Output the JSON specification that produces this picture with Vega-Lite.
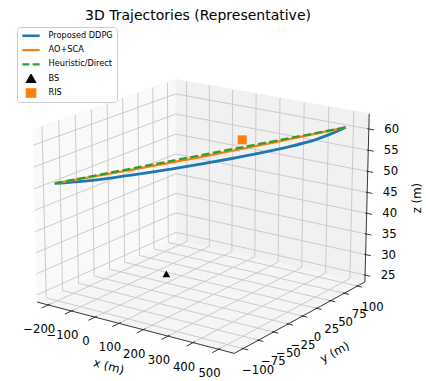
{
"$schema":"https://vega.github.io/schema/vega-lite/v6.json",
"width":426,"height":353,
"autosize":{"type":"none"},
"padding":{"left":0,"top":28,"right":0,"bottom":0},
"background":"white",
"config":{"view":{"stroke":null},"font":"DejaVu Sans"},
"title":{"text":"3D Trajectories (Representative)","font":"DejaVu Sans","fontSize":14,"fontWeight":"normal","color":"#000000","anchor":"middle","frame":"group","dx":-15,"offset":4},
"data":{"values":[
{"k":"pane","p":"floor","o":0,"x":-249,"y":-114,"z":23.3},
{"k":"pane","p":"floor","o":1,"x":561,"y":-114,"z":23.3},
{"k":"pane","p":"floor","o":2,"x":561,"y":114,"z":23.3},
{"k":"pane","p":"floor","o":3,"x":-249,"y":114,"z":23.3},
{"k":"pane","p":"left","o":0,"x":-249,"y":-114,"z":23.3},
{"k":"pane","p":"left","o":1,"x":-249,"y":114,"z":23.3},
{"k":"pane","p":"left","o":2,"x":-249,"y":114,"z":63.55},
{"k":"pane","p":"left","o":3,"x":-249,"y":-114,"z":63.55},
{"k":"pane","p":"back","o":0,"x":-249,"y":114,"z":23.3},
{"k":"pane","p":"back","o":1,"x":561,"y":114,"z":23.3},
{"k":"pane","p":"back","o":2,"x":561,"y":114,"z":63.55},
{"k":"pane","p":"back","o":3,"x":-249,"y":114,"z":63.55},

{"k":"grid","x":-200,"y":-114,"z":23.3,"x2":-200,"y2":114,"z2":23.3},
{"k":"grid","x":-100,"y":-114,"z":23.3,"x2":-100,"y2":114,"z2":23.3},
{"k":"grid","x":0,"y":-114,"z":23.3,"x2":0,"y2":114,"z2":23.3},
{"k":"grid","x":100,"y":-114,"z":23.3,"x2":100,"y2":114,"z2":23.3},
{"k":"grid","x":200,"y":-114,"z":23.3,"x2":200,"y2":114,"z2":23.3},
{"k":"grid","x":300,"y":-114,"z":23.3,"x2":300,"y2":114,"z2":23.3},
{"k":"grid","x":400,"y":-114,"z":23.3,"x2":400,"y2":114,"z2":23.3},
{"k":"grid","x":500,"y":-114,"z":23.3,"x2":500,"y2":114,"z2":23.3},
{"k":"grid","x":-249,"y":-100,"z":23.3,"x2":561,"y2":-100,"z2":23.3},
{"k":"grid","x":-249,"y":-75,"z":23.3,"x2":561,"y2":-75,"z2":23.3},
{"k":"grid","x":-249,"y":-50,"z":23.3,"x2":561,"y2":-50,"z2":23.3},
{"k":"grid","x":-249,"y":-25,"z":23.3,"x2":561,"y2":-25,"z2":23.3},
{"k":"grid","x":-249,"y":0,"z":23.3,"x2":561,"y2":0,"z2":23.3},
{"k":"grid","x":-249,"y":25,"z":23.3,"x2":561,"y2":25,"z2":23.3},
{"k":"grid","x":-249,"y":50,"z":23.3,"x2":561,"y2":50,"z2":23.3},
{"k":"grid","x":-249,"y":75,"z":23.3,"x2":561,"y2":75,"z2":23.3},
{"k":"grid","x":-249,"y":100,"z":23.3,"x2":561,"y2":100,"z2":23.3},
{"k":"grid","x":-249,"y":-100,"z":23.3,"x2":-249,"y2":-100,"z2":63.55},
{"k":"grid","x":-249,"y":-75,"z":23.3,"x2":-249,"y2":-75,"z2":63.55},
{"k":"grid","x":-249,"y":-50,"z":23.3,"x2":-249,"y2":-50,"z2":63.55},
{"k":"grid","x":-249,"y":-25,"z":23.3,"x2":-249,"y2":-25,"z2":63.55},
{"k":"grid","x":-249,"y":0,"z":23.3,"x2":-249,"y2":0,"z2":63.55},
{"k":"grid","x":-249,"y":25,"z":23.3,"x2":-249,"y2":25,"z2":63.55},
{"k":"grid","x":-249,"y":50,"z":23.3,"x2":-249,"y2":50,"z2":63.55},
{"k":"grid","x":-249,"y":75,"z":23.3,"x2":-249,"y2":75,"z2":63.55},
{"k":"grid","x":-249,"y":100,"z":23.3,"x2":-249,"y2":100,"z2":63.55},
{"k":"grid","x":-249,"y":-114,"z":25,"x2":-249,"y2":114,"z2":25},
{"k":"grid","x":-249,"y":-114,"z":30,"x2":-249,"y2":114,"z2":30},
{"k":"grid","x":-249,"y":-114,"z":35,"x2":-249,"y2":114,"z2":35},
{"k":"grid","x":-249,"y":-114,"z":40,"x2":-249,"y2":114,"z2":40},
{"k":"grid","x":-249,"y":-114,"z":45,"x2":-249,"y2":114,"z2":45},
{"k":"grid","x":-249,"y":-114,"z":50,"x2":-249,"y2":114,"z2":50},
{"k":"grid","x":-249,"y":-114,"z":55,"x2":-249,"y2":114,"z2":55},
{"k":"grid","x":-249,"y":-114,"z":60,"x2":-249,"y2":114,"z2":60},
{"k":"grid","x":-200,"y":114,"z":23.3,"x2":-200,"y2":114,"z2":63.55},
{"k":"grid","x":-100,"y":114,"z":23.3,"x2":-100,"y2":114,"z2":63.55},
{"k":"grid","x":0,"y":114,"z":23.3,"x2":0,"y2":114,"z2":63.55},
{"k":"grid","x":100,"y":114,"z":23.3,"x2":100,"y2":114,"z2":63.55},
{"k":"grid","x":200,"y":114,"z":23.3,"x2":200,"y2":114,"z2":63.55},
{"k":"grid","x":300,"y":114,"z":23.3,"x2":300,"y2":114,"z2":63.55},
{"k":"grid","x":400,"y":114,"z":23.3,"x2":400,"y2":114,"z2":63.55},
{"k":"grid","x":500,"y":114,"z":23.3,"x2":500,"y2":114,"z2":63.55},
{"k":"grid","x":-249,"y":114,"z":25,"x2":561,"y2":114,"z2":25},
{"k":"grid","x":-249,"y":114,"z":30,"x2":561,"y2":114,"z2":30},
{"k":"grid","x":-249,"y":114,"z":35,"x2":561,"y2":114,"z2":35},
{"k":"grid","x":-249,"y":114,"z":40,"x2":561,"y2":114,"z2":40},
{"k":"grid","x":-249,"y":114,"z":45,"x2":561,"y2":114,"z2":45},
{"k":"grid","x":-249,"y":114,"z":50,"x2":561,"y2":114,"z2":50},
{"k":"grid","x":-249,"y":114,"z":55,"x2":561,"y2":114,"z2":55},
{"k":"grid","x":-249,"y":114,"z":60,"x2":561,"y2":114,"z2":60},

{"k":"axis","x":-249,"y":-114,"z":23.3,"x2":561,"y2":-114,"z2":23.3},
{"k":"axis","x":561,"y":-114,"z":23.3,"x2":561,"y2":114,"z2":23.3},
{"k":"axis","x":561,"y":114,"z":23.3,"x2":561,"y2":114,"z2":63.55},

{"k":"tick","x":-200,"y":-111,"z":23.3,"x2":-200,"y2":-124,"z2":23.3},
{"k":"tick","x":-100,"y":-111,"z":23.3,"x2":-100,"y2":-124,"z2":23.3},
{"k":"tick","x":0,"y":-111,"z":23.3,"x2":0,"y2":-124,"z2":23.3},
{"k":"tick","x":100,"y":-111,"z":23.3,"x2":100,"y2":-124,"z2":23.3},
{"k":"tick","x":200,"y":-111,"z":23.3,"x2":200,"y2":-124,"z2":23.3},
{"k":"tick","x":300,"y":-111,"z":23.3,"x2":300,"y2":-124,"z2":23.3},
{"k":"tick","x":400,"y":-111,"z":23.3,"x2":400,"y2":-124,"z2":23.3},
{"k":"tick","x":500,"y":-111,"z":23.3,"x2":500,"y2":-124,"z2":23.3},
{"k":"tick","x":555,"y":-100,"z":23.3,"x2":580,"y2":-100,"z2":23.3},
{"k":"tick","x":555,"y":-75,"z":23.3,"x2":580,"y2":-75,"z2":23.3},
{"k":"tick","x":555,"y":-50,"z":23.3,"x2":580,"y2":-50,"z2":23.3},
{"k":"tick","x":555,"y":-25,"z":23.3,"x2":580,"y2":-25,"z2":23.3},
{"k":"tick","x":555,"y":0,"z":23.3,"x2":580,"y2":0,"z2":23.3},
{"k":"tick","x":555,"y":25,"z":23.3,"x2":580,"y2":25,"z2":23.3},
{"k":"tick","x":555,"y":50,"z":23.3,"x2":580,"y2":50,"z2":23.3},
{"k":"tick","x":555,"y":75,"z":23.3,"x2":580,"y2":75,"z2":23.3},
{"k":"tick","x":555,"y":100,"z":23.3,"x2":580,"y2":100,"z2":23.3},
{"k":"tick","x":555,"y":114,"z":25,"x2":582,"y2":114,"z2":25},
{"k":"tick","x":555,"y":114,"z":30,"x2":582,"y2":114,"z2":30},
{"k":"tick","x":555,"y":114,"z":35,"x2":582,"y2":114,"z2":35},
{"k":"tick","x":555,"y":114,"z":40,"x2":582,"y2":114,"z2":40},
{"k":"tick","x":555,"y":114,"z":45,"x2":582,"y2":114,"z2":45},
{"k":"tick","x":555,"y":114,"z":50,"x2":582,"y2":114,"z2":50},
{"k":"tick","x":555,"y":114,"z":55,"x2":582,"y2":114,"z2":55},
{"k":"tick","x":555,"y":114,"z":60,"x2":582,"y2":114,"z2":60},

{"k":"xl","x":-200,"y":-114,"z":23.3,"lab":"−200"},
{"k":"xl","x":-100,"y":-114,"z":23.3,"lab":"−100"},
{"k":"xl","x":0,"y":-114,"z":23.3,"lab":"0"},
{"k":"xl","x":100,"y":-114,"z":23.3,"lab":"100"},
{"k":"xl","x":200,"y":-114,"z":23.3,"lab":"200"},
{"k":"xl","x":300,"y":-114,"z":23.3,"lab":"300"},
{"k":"xl","x":400,"y":-114,"z":23.3,"lab":"400"},
{"k":"xl","x":500,"y":-114,"z":23.3,"lab":"500"},
{"k":"yl","x":561,"y":-100,"z":23.3,"lab":"−100"},
{"k":"yl","x":561,"y":-75,"z":23.3,"lab":"−75"},
{"k":"yl","x":561,"y":-50,"z":23.3,"lab":"−50"},
{"k":"yl","x":561,"y":-25,"z":23.3,"lab":"−25"},
{"k":"yl","x":561,"y":0,"z":23.3,"lab":"0"},
{"k":"yl","x":561,"y":25,"z":23.3,"lab":"25"},
{"k":"yl","x":561,"y":50,"z":23.3,"lab":"50"},
{"k":"yl","x":561,"y":75,"z":23.3,"lab":"75"},
{"k":"yl","x":561,"y":100,"z":23.3,"lab":"100"},
{"k":"zl","x":561,"y":114,"z":25,"lab":"25"},
{"k":"zl","x":561,"y":114,"z":30,"lab":"30"},
{"k":"zl","x":561,"y":114,"z":35,"lab":"35"},
{"k":"zl","x":561,"y":114,"z":40,"lab":"40"},
{"k":"zl","x":561,"y":114,"z":45,"lab":"45"},
{"k":"zl","x":561,"y":114,"z":50,"lab":"50"},
{"k":"zl","x":561,"y":114,"z":55,"lab":"55"},
{"k":"zl","x":561,"y":114,"z":60,"lab":"60"},
{"k":"xt","x":50,"y":-114,"z":23.3,"lab":"x (m)"},
{"k":"yt","x":561,"y":0,"z":23.3,"lab":"y (m)"},
{"k":"zt","x":561,"y":114,"z":43.4,"lab":"z (m)"},

{"k":"s","series":"Proposed DDPG","t":0,"x":-200,"y":-100,"z":51},
{"k":"s","series":"Proposed DDPG","t":0.1,"x":-130,"y":-80,"z":51.15},
{"k":"s","series":"Proposed DDPG","t":0.2,"x":-60,"y":-60,"z":51.6},
{"k":"s","series":"Proposed DDPG","t":0.3,"x":10,"y":-40,"z":52.2},
{"k":"s","series":"Proposed DDPG","t":0.4,"x":80,"y":-20,"z":52.9},
{"k":"s","series":"Proposed DDPG","t":0.5,"x":150,"y":0,"z":53.7},
{"k":"s","series":"Proposed DDPG","t":0.6,"x":220,"y":20,"z":54.55},
{"k":"s","series":"Proposed DDPG","t":0.7,"x":290,"y":40,"z":55.5},
{"k":"s","series":"Proposed DDPG","t":0.8,"x":360,"y":60,"z":56.6},
{"k":"s","series":"Proposed DDPG","t":0.85,"x":395,"y":70,"z":57.28},
{"k":"s","series":"Proposed DDPG","t":0.9,"x":430,"y":80,"z":58.1},
{"k":"s","series":"Proposed DDPG","t":0.95,"x":465,"y":90,"z":59.18},
{"k":"s","series":"Proposed DDPG","t":1,"x":500,"y":100,"z":60.5},
{"k":"s","series":"AO+SCA","t":0,"x":-200,"y":-100,"z":51},
{"k":"s","series":"AO+SCA","t":0.25,"x":-25,"y":-50,"z":53.08},
{"k":"s","series":"AO+SCA","t":0.5,"x":150,"y":0,"z":55.35},
{"k":"s","series":"AO+SCA","t":0.75,"x":325,"y":50,"z":57.83},
{"k":"s","series":"AO+SCA","t":1,"x":500,"y":100,"z":60.5},
{"k":"s","series":"Heuristic/Direct","t":0,"x":-200,"y":-100,"z":51},
{"k":"s","series":"Heuristic/Direct","t":1,"x":500,"y":100,"z":60.5},
{"k":"s","series":"BS","t":0,"x":0,"y":0,"z":25.5},
{"k":"s","series":"RIS","t":0,"x":195,"y":50,"z":57}
]},
"transform":[
{"calculate":"((datum.x+249)/810-0.5)*1.1429","as":"qx"},
{"calculate":"((datum.y+114)/228-0.5)*1.1429","as":"qy"},
{"calculate":"((datum.z-23.3)/40.25-0.5)*0.8572","as":"qz"},
{"calculate":"10-(0.54551*datum.qx-0.77906*datum.qy+0.30902*datum.qz)","as":"dd"},
{"calculate":"(0.81915*datum.qx+0.57358*datum.qy)/datum.dd","as":"px"},
{"calculate":"(-0.17725*datum.qx+0.25313*datum.qy+0.95106*datum.qz)/datum.dd","as":"py"},
{"calculate":"((datum.x2+249)/810-0.5)*1.1429","as":"qx2"},
{"calculate":"((datum.y2+114)/228-0.5)*1.1429","as":"qy2"},
{"calculate":"((datum.z2-23.3)/40.25-0.5)*0.8572","as":"qz2"},
{"calculate":"10-(0.54551*datum.qx2-0.77906*datum.qy2+0.30902*datum.qz2)","as":"dd2"},
{"calculate":"(0.81915*datum.qx2+0.57358*datum.qy2)/datum.dd2","as":"px2"},
{"calculate":"(-0.17725*datum.qx2+0.25313*datum.qy2+0.95106*datum.qz2)/datum.dd2","as":"py2"}
],
"encoding":{
"x":{"field":"px","type":"quantitative","scale":{"domain":[-0.09732,0.1068],"nice":false,"zero":false},"axis":null},
"y":{"field":"py","type":"quantitative","scale":{"domain":[-0.08294,0.0862],"nice":false,"zero":false},"axis":null}
},
"layer":[
{"transform":[{"filter":"datum.k==='pane' && datum.p==='floor'"}],"mark":{"type":"line","fill":"#f5f5f5","stroke":"#f5f5f5","strokeWidth":1},"encoding":{"order":{"field":"o","type":"quantitative"}}},
{"transform":[{"filter":"datum.k==='pane' && datum.p==='left'"}],"mark":{"type":"line","fill":"#f9f9f9","stroke":"#f9f9f9","strokeWidth":1},"encoding":{"order":{"field":"o","type":"quantitative"}}},
{"transform":[{"filter":"datum.k==='pane' && datum.p==='back'"}],"mark":{"type":"line","fill":"#f1f1f1","stroke":"#f1f1f1","strokeWidth":1},"encoding":{"order":{"field":"o","type":"quantitative"}}},
{"transform":[{"filter":"datum.k==='grid'"}],"mark":{"type":"rule","color":"#c6c6c6","strokeWidth":0.9},"encoding":{"x2":{"field":"px2"},"y2":{"field":"py2"}}},
{"transform":[{"filter":"datum.k==='axis' || datum.k==='tick'"}],"mark":{"type":"rule","color":"#222222","strokeWidth":0.9},"encoding":{"x2":{"field":"px2"},"y2":{"field":"py2"}}},
{"transform":[{"filter":"datum.k==='xl'"}],"mark":{"type":"text","font":"DejaVu Sans","fontSize":11.7,"color":"#000000","align":"center","baseline":"middle","dx":-9,"dy":24},"encoding":{"text":{"field":"lab"}}},
{"transform":[{"filter":"datum.k==='yl'"}],"mark":{"type":"text","font":"DejaVu Sans","fontSize":11.7,"color":"#000000","align":"center","baseline":"middle","dx":15,"dy":21},"encoding":{"text":{"field":"lab"}}},
{"transform":[{"filter":"datum.k==='zl'"}],"mark":{"type":"text","font":"DejaVu Sans","fontSize":11.7,"color":"#000000","align":"center","baseline":"middle","dx":23,"dy":0},"encoding":{"text":{"field":"lab"}}},
{"transform":[{"filter":"datum.k==='xt'"}],"mark":{"type":"text","font":"DejaVu Sans","fontSize":11.7,"color":"#000000","align":"center","baseline":"middle","angle":15,"dx":13.8,"dy":43.9},"encoding":{"text":{"field":"lab"}}},
{"transform":[{"filter":"datum.k==='yt'"}],"mark":{"type":"text","font":"DejaVu Sans","fontSize":11.7,"color":"#000000","align":"center","baseline":"middle","angle":-28.3,"dx":11.1,"dy":46.9},"encoding":{"text":{"field":"lab"}}},
{"transform":[{"filter":"datum.k==='zt'"}],"mark":{"type":"text","font":"DejaVu Sans","fontSize":11.7,"color":"#000000","align":"center","baseline":"middle","angle":-90,"dx":1,"dy":50},"encoding":{"text":{"field":"lab"}}},
{"transform":[{"filter":"datum.k==='s' && datum.series==='Proposed DDPG'"}],"mark":{"type":"line","strokeWidth":2.9,"interpolate":"monotone"},"encoding":{"order":{"field":"t","type":"quantitative"},
 "color":{"field":"series","type":"nominal","scale":{"domain":["Proposed DDPG","AO+SCA","Heuristic/Direct","BS","RIS"],"range":["#1f77b4","#ff7f0e","#2ca02c","#000000","#ff7f0e"]},
  "legend":{"title":null,"orient":"none","legendX":17,"legendY":-1,"padding":4,"strokeColor":"#cccccc","fillColor":"rgba(255,255,255,0.8)","cornerRadius":3,"labelFont":"DejaVu Sans","labelFontSize":8.2,"labelColor":"#000000","symbolSize":300,"symbolStrokeWidth":2.3,"labelOffset":7.5,"rowPadding":3.3,"clipHeight":9.5,
   "encode":{"symbols":{"update":{
    "shape":{"signal":"datum.value==='BS'?'triangle-up':datum.value==='RIS'?'square':'stroke'"},
    "size":{"signal":"datum.value==='BS'?55:datum.value==='RIS'?70:300"},
    "fill":{"signal":"datum.value==='BS'?'#000000':datum.value==='RIS'?'#ff7f0e':'transparent'"},
    "stroke":{"signal":"datum.value==='Proposed DDPG'?'#1f77b4':datum.value==='AO+SCA'?'#ff7f0e':datum.value==='Heuristic/Direct'?'#2ca02c':'transparent'"},
    "strokeDash":{"signal":"datum.value==='Heuristic/Direct'?[7,3.3]:[1,0]"},
    "strokeWidth":{"value":2.3},
    "opacity":{"value":1}}}}}}}},
{"transform":[{"filter":"datum.k==='s' && datum.series==='AO+SCA'"}],"mark":{"type":"line","strokeWidth":2.3,"interpolate":"monotone"},"encoding":{"order":{"field":"t","type":"quantitative"},
 "color":{"field":"series","type":"nominal","scale":{"domain":["Proposed DDPG","AO+SCA","Heuristic/Direct","BS","RIS"],"range":["#1f77b4","#ff7f0e","#2ca02c","#000000","#ff7f0e"]}}}},
{"transform":[{"filter":"datum.k==='s' && datum.series==='Heuristic/Direct'"}],"mark":{"type":"line","strokeWidth":2.3,"strokeDash":[8,3.5]},"encoding":{"order":{"field":"t","type":"quantitative"},
 "color":{"field":"series","type":"nominal","scale":{"domain":["Proposed DDPG","AO+SCA","Heuristic/Direct","BS","RIS"],"range":["#1f77b4","#ff7f0e","#2ca02c","#000000","#ff7f0e"]}}}},
{"transform":[{"filter":"datum.k==='s' && datum.series==='BS'"}],"mark":{"type":"point","shape":"triangle-up","filled":true,"opacity":1,"size":60},"encoding":{
 "color":{"field":"series","type":"nominal","scale":{"domain":["Proposed DDPG","AO+SCA","Heuristic/Direct","BS","RIS"],"range":["#1f77b4","#ff7f0e","#2ca02c","#000000","#ff7f0e"]}}}},
{"transform":[{"filter":"datum.k==='s' && datum.series==='RIS'"}],"mark":{"type":"point","shape":"square","filled":true,"opacity":1,"size":80},"encoding":{
 "color":{"field":"series","type":"nominal","scale":{"domain":["Proposed DDPG","AO+SCA","Heuristic/Direct","BS","RIS"],"range":["#1f77b4","#ff7f0e","#2ca02c","#000000","#ff7f0e"]}}}}
]
}
